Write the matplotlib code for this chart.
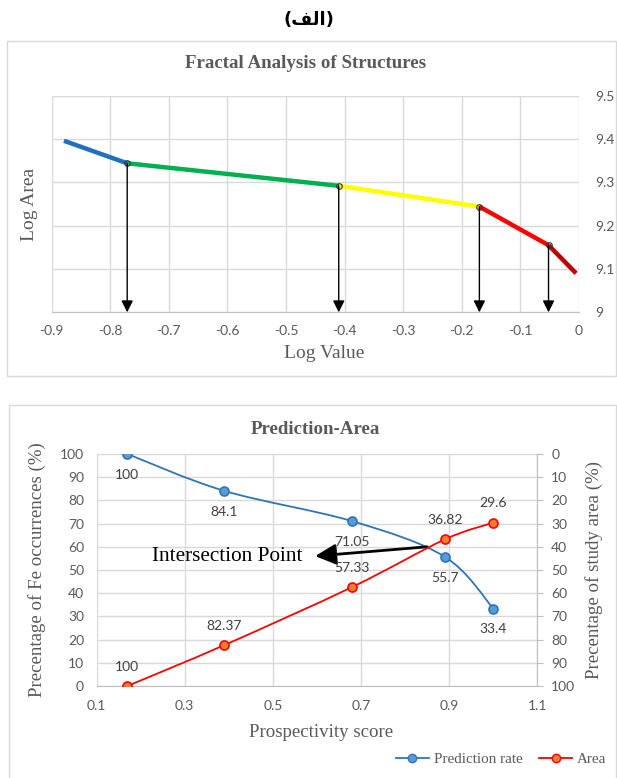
import matplotlib
matplotlib.use("Agg")
import matplotlib.pyplot as plt
from matplotlib.path import Path
from matplotlib.patches import PathPatch, Rectangle
from matplotlib.lines import Line2D
from matplotlib.ticker import FuncFormatter, MultipleLocator

plt.rcParams['axes.unicode_minus'] = False

# ---- data: fractal analysis (top) ----
log_value = [-0.879, -0.771, -0.410, -0.170, -0.052, -0.005]
log_area = [9.396, 9.344, 9.292, 9.244, 9.155, 9.090]
seg_colors = ['#1F6FC5', '#00B050', '#FFFF00', '#FF0000', '#C00000']

# ---- data: prediction-area (bottom) ----
score = [0.17, 0.39, 0.68, 0.89, 1.0]
prediction_rate = [100, 84.1, 71.05, 55.7, 33.4]
area = [100, 82.37, 57.33, 36.82, 29.6]

GRAY = '#595959'
GRID = '#D9D9D9'
SERIF = 'Liberation Serif'
SANS = 'Lato'

fig = plt.figure(figsize=(6.17, 7.78), dpi=100)
W, H = 617, 778


def fx(px):
    return px / W


def fy(py):
    return 1 - py / H


# outer chart frames
fig.patches.append(Rectangle((fx(7), fy(376)), fx(616) - fx(7), fy(41) - fy(376),
                             transform=fig.transFigure, fill=False, ec=GRID, lw=1))
fig.patches.append(Rectangle((fx(9), fy(780)), fx(616) - fx(9), fy(405) - fy(780),
                             transform=fig.transFigure, fill=False, ec=GRID, lw=1))

fig.text(0.5, fy(20), '(' + '\uFED2\uFEDF\uFE8D' + ')', ha='center', va='center',
         fontsize=13, fontweight='bold', family='DejaVu Sans', color='black')

# ================= top chart =================
ax1 = fig.add_axes([fx(51.6), fy(312.3), fx(579) - fx(51.6), fy(95.7) - fy(312.3)])
ax1.set_xlim(-0.9, 0)
ax1.set_ylim(9.0, 9.5)
ax1.xaxis.set_major_locator(MultipleLocator(0.1))
ax1.yaxis.set_major_locator(MultipleLocator(0.1))
fmt = FuncFormatter(lambda v, p: '%g' % round(v, 2))
ax1.xaxis.set_major_formatter(fmt)
ax1.yaxis.set_major_formatter(fmt)
ax1.yaxis.tick_right()
ax1.grid(True, color=GRID, lw=1)
ax1.set_axisbelow(True)
for s in ['top', 'left', 'right']:
    ax1.spines[s].set_visible(False)
ax1.spines['bottom'].set_color('#BFBFBF')
ax1.tick_params(axis='both', length=0, colors=GRAY, labelsize=10)
ax1.tick_params(axis='x', pad=9)
ax1.tick_params(axis='y', pad=12)
for lab in ax1.get_xticklabels() + ax1.get_yticklabels():
    lab.set_family(SANS)
for lab in ax1.get_yticklabels():
    lab.set_ha('left')

for i, c in enumerate(seg_colors):
    ax1.plot(log_value[i:i + 2], log_area[i:i + 2], color=c, lw=3.2,
             solid_capstyle='butt', zorder=3)

for xv, yv in zip(log_value[1:5], log_area[1:5]):
    ax1.plot([xv], [yv], 'o', ms=4, mfc='none', mec='#333333', mew=0.8, zorder=4)
    ax1.annotate('', xy=(xv, 9.0), xytext=(xv, yv),
                 arrowprops=dict(arrowstyle='-|>,head_length=0.5,head_width=0.25',
                                 color='black', lw=1, mutation_scale=14,
                                 shrinkA=0, shrinkB=0), zorder=5)

fig.text(fx(306), fy(63), 'Fractal Analysis of Structures', ha='center', va='center',
         fontsize=13.6, fontweight='bold', family=SERIF, color=GRAY)
ax1.set_xlabel('Log Value', family=SERIF, fontsize=14, color=GRAY)
ax1.xaxis.label.set_va('center')
ax1.xaxis.set_label_coords(0.517, -(353 - 312.3) / 216.6)
ax1.set_ylabel('Log Area', family=SERIF, fontsize=14, color=GRAY)
ax1.yaxis.set_label_position('left')
ax1.yaxis.label.set_va('center')
ax1.yaxis.set_label_coords(-0.041, 0.5)

# ================= bottom chart =================
ax2 = fig.add_axes([fx(96.5), fy(686), fx(537.4) - fx(96.5), fy(454) - fy(686)])
ax3 = ax2.twinx()
ax2.set_xlim(0.1, 1.1)
ax2.set_ylim(0, 100)
ax3.set_ylim(100, 0)
ax2.set_xticks([0.1, 0.3, 0.5, 0.7, 0.9, 1.1])
ax2.yaxis.set_major_locator(MultipleLocator(10))
ax3.yaxis.set_major_locator(MultipleLocator(10))
ax2.xaxis.set_major_formatter(fmt)
ax2.grid(True, color=GRID, lw=1)
ax2.set_axisbelow(True)
for s in ['top', 'left', 'right']:
    ax2.spines[s].set_visible(False)
for s in ['top', 'left', 'bottom']:
    ax3.spines[s].set_visible(False)
ax2.spines['bottom'].set_color('#BFBFBF')
ax3.spines['right'].set_color('#BFBFBF')
ax2.tick_params(axis='both', length=0, colors=GRAY, labelsize=10)
ax2.tick_params(axis='x', pad=10)
ax2.tick_params(axis='y', pad=9)
ax3.tick_params(axis='y', length=4, colors=GRAY, labelsize=10, pad=6)
ax3.tick_params(axis='y', color='#BFBFBF')
for lab in ax2.get_xticklabels() + ax2.get_yticklabels() + ax3.get_yticklabels():
    lab.set_family(SANS)


def smooth_path(xs, ys):
    # Excel-style smoothed line through the data points (cubic Bezier segments)
    pts = list(zip(xs, ys))
    verts = [pts[0]]
    codes = [Path.MOVETO]
    n = len(pts)
    for i in range(n - 1):
        p0 = pts[max(i - 1, 0)]
        p1 = pts[i]
        p2 = pts[i + 1]
        p3 = pts[min(i + 2, n - 1)]
        c1 = (p1[0] + (p2[0] - p0[0]) / 6, p1[1] + (p2[1] - p0[1]) / 6)
        c2 = (p2[0] - (p3[0] - p1[0]) / 6, p2[1] - (p3[1] - p1[1]) / 6)
        verts += [c1, c2, p2]
        codes += [Path.CURVE4] * 3
    return Path(verts, codes)


BLUE = '#2E75B6'
BLUE_FILL = '#5B9BD5'
RED = '#FF0000'
RED_FILL = '#ED7D31'

ax2.add_patch(PathPatch(smooth_path(score, prediction_rate), fill=False, ec=BLUE, lw=1.3, zorder=3))
ax2.plot(score, prediction_rate, 'o', ms=6.5, mfc=BLUE_FILL, mec=BLUE, mew=1.2, zorder=4)
ax3.add_patch(PathPatch(smooth_path(score, area), fill=False, ec=RED, lw=1.3, zorder=3))
ax3.plot(score, area, 'o', ms=6.5, mfc=RED_FILL, mec=RED, mew=1.2, zorder=4)

for xv, yv in zip(score, prediction_rate):
    ax2.annotate('%g' % yv, (xv, yv), xytext=(0, -15), textcoords='offset points',
                 ha='center', va='center', fontsize=10, family=SANS, color='#404040')
for xv, yv in zip(score, area):
    ax3.annotate('%g' % yv, (xv, yv), xytext=(0, 14), textcoords='offset points',
                 ha='center', va='center', fontsize=10, family=SANS, color='#404040')

# intersection arrow
ax2.annotate('', xy=(0.596, 56), xytext=(0.85, 60),
             arrowprops=dict(arrowstyle='-|>,head_length=0.7,head_width=0.35',
                             color='black', lw=2, mutation_scale=18,
                             shrinkA=0, shrinkB=0), zorder=6)
ax2.text(0.568, 56, 'Intersection Point', ha='right', va='center',
         fontsize=15.3, family=SERIF, color='black', zorder=6)

fig.text(fx(315), fy(430), 'Prediction-Area', ha='center', va='center',
         fontsize=13.6, fontweight='bold', family=SERIF, color=GRAY)
ax2.set_xlabel('Prospectivity score', family=SERIF, fontsize=13.6, color=GRAY)
ax2.xaxis.label.set_va('center')
ax2.xaxis.set_label_coords(0.509, -0.201)
ax2.set_ylabel('Precentage of Fe occurrences (%)', family=SERIF, fontsize=13.6, color=GRAY)
ax2.yaxis.label.set_va('center')
ax2.yaxis.set_label_coords(-0.135, 0.5)
ax3.set_ylabel('Precentage of study area (%)', family=SERIF, fontsize=13.6, color=GRAY)
ax3.yaxis.label.set_va('center')
ax3.yaxis.set_label_coords(1.128, 0.5)

handles = [Line2D([0], [0], color=BLUE, lw=1.3, marker='o', ms=6, mfc=BLUE_FILL, mec=BLUE),
           Line2D([0], [0], color=RED, lw=1.3, marker='o', ms=6, mfc=RED_FILL, mec=RED)]
leg = fig.legend(handles, ['Prediction rate', 'Area'], loc='center',
                 bbox_to_anchor=(fx(501), fy(759)), ncol=2, frameon=False,
                 prop={'family': SERIF, 'size': 10.9}, handlelength=2.2,
                 handletextpad=0.3, columnspacing=1.1)
for t in leg.get_texts():
    t.set_color(GRAY)

fig.savefig('out.png', dpi=100)
